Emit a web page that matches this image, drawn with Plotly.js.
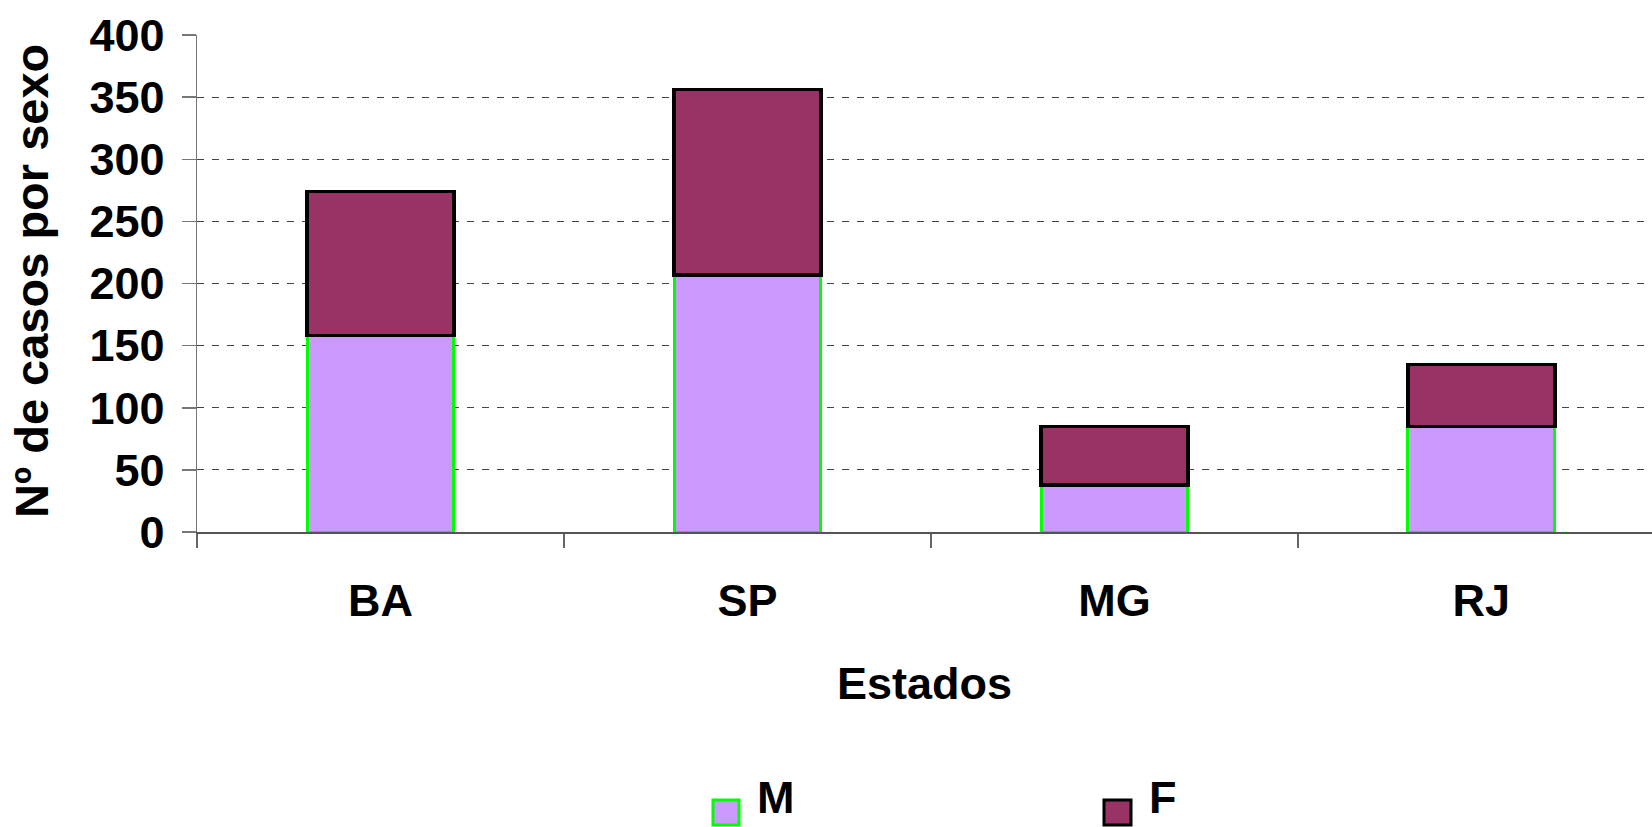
<!DOCTYPE html>
<html>
<head>
<meta charset="utf-8">
<script src="https://cdn.plot.ly/plotly-3.0.1.min.js"></script>
<style>html,body{margin:0;padding:0;background:#fff;overflow:hidden;}#chart{width:1652px;height:827px;}</style>
</head>
<body>
<div id="chart"></div>
<script>
const categories = ["BA", "SP", "MG", "RJ"];
const seriesM = [158, 207, 38, 85];
const seriesF = [116, 149, 47, 50];
const yTicks = [0, 50, 100, 150, 200, 250, 300, 350, 400];
const seriesNames = ["M", "F"];
const yTitle = "Nº de casos por sexo";
const xTitle = "Estados";

const FONT = "Liberation Sans, Arial, Helvetica, sans-serif";
const W = 1652, H = 827;
const M = {l: 197, r: 0, t: 35, b: 295};
const styles = [
  {fill: "#CC99FF", line: "#00FF00", lw: 3},
  {fill: "#993366", line: "#000000", lw: 3.5}
];

const traces = [
  {
    type: "bar", name: seriesNames[0], x: categories, y: seriesM,
    marker: {color: styles[0].fill, line: {color: styles[0].line, width: styles[0].lw}},
    hoverinfo: "x+y+name", showlegend: false
  },
  {
    type: "bar", name: seriesNames[1], x: categories, y: seriesF,
    marker: {color: styles[1].fill, line: {color: styles[1].line, width: styles[1].lw}},
    hoverinfo: "x+y+name", showlegend: false
  }
];

// pixel -> paper helpers for legend and y title placed in the margins
const px2x = p => (p - M.l) / (W - M.l - M.r);
const px2y = p => (H - M.b - p) / (H - M.t - M.b);
const legendBoxes = [[713, 739], [1104, 1131]];
const legendText = [755, 1147];
const shapes = [], annotations = [];
seriesNames.forEach((n, i) => {
  shapes.push({
    type: "rect", xref: "paper", yref: "paper",
    x0: px2x(legendBoxes[i][0]), x1: px2x(legendBoxes[i][1]),
    y0: px2y(825), y1: px2y(800),
    fillcolor: styles[i].fill, line: {color: styles[i].line, width: 3}
  });
  annotations.push({
    xref: "paper", yref: "paper", x: px2x(legendText[i]), y: px2y(797),
    xanchor: "left", yanchor: "middle", showarrow: false, text: n,
    font: {family: FONT, size: 45, color: "#000", weight: "bold"}
  });
});
annotations.push({
  xref: "paper", yref: "paper", x: px2x(31), y: px2y(281),
  xanchor: "center", yanchor: "middle", showarrow: false, text: yTitle, textangle: -90,
  font: {family: FONT, size: 47, color: "#000", weight: "bold"}
});

const layout = {
  width: W, height: H,
  margin: {l: M.l, r: M.r, t: M.t, b: M.b, pad: 0},
  paper_bgcolor: "#ffffff", plot_bgcolor: "#ffffff",
  barmode: "stack", bargap: 0.6,
  font: {family: FONT, size: 45, color: "#000", weight: "bold"},
  showlegend: false,
  shapes: shapes, annotations: annotations,
  xaxis: {
    type: "category", range: [-0.5, 3.465], automargin: false,
    showline: true, linecolor: "#555", linewidth: 1.5,
    ticks: "outside", ticklen: 14, tickcolor: "#666", tickwidth: 1.5, tickson: "boundaries",
    showgrid: false, zeroline: false,
    tickfont: {family: FONT, size: 45, color: "#000", weight: "bold"},
    ticklabelstandoff: 28,
    title: {text: xTitle, font: {family: FONT, size: 45, color: "#000", weight: "bold"}, standoff: 43}
  },
  yaxis: {
    range: [0, 400], tickvals: yTicks, ticktext: yTicks.map(String), automargin: false,
    showline: true, linecolor: "#777", linewidth: 1.5,
    ticks: "outside", ticklen: 14, tickcolor: "#777", tickwidth: 1.5,
    showgrid: true, gridcolor: "#444", gridwidth: 1, griddash: "7px,8px",
    zeroline: false,
    tickfont: {family: FONT, size: 45, color: "#000", weight: "bold"},
    ticklabelstandoff: 8
  }
};

Plotly.newPlot("chart", traces, layout, {displayModeBar: false, staticPlot: true});
</script>
</body>
</html>
